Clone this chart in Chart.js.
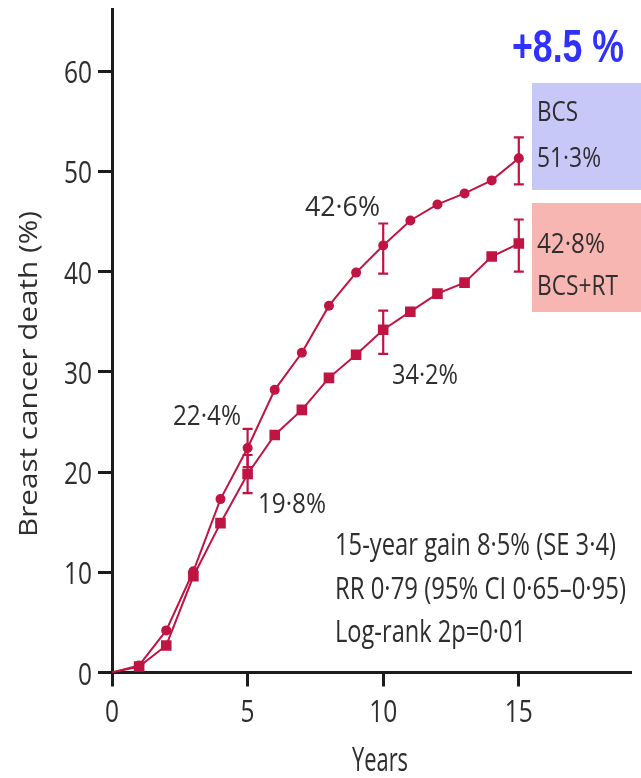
<!DOCTYPE html>
<html>
<head>
<meta charset="utf-8">
<script src="https://cdn.jsdelivr.net/npm/chart.js@4/dist/chart.umd.min.js"></script>
<style>
  html, body { margin: 0; padding: 0; background: #ffffff; }
  #wrap { width: 641px; height: 778px; }
</style>
</head>
<body>
<div id="wrap"><canvas id="c" width="641" height="778"></canvas></div>
<script>
// Cumulative breast cancer death (%) by year of follow-up
const years = [0, 1, 2, 3, 4, 5, 6, 7, 8, 9, 10, 11, 12, 13, 14, 15];
const bcs   = [0, 0.7, 4.2, 10.1, 17.3, 22.4, 28.2, 31.9, 36.6, 39.9, 42.6, 45.1, 46.7, 47.8, 49.1, 51.3];
const bcsRt = [0, 0.6, 2.7, 9.6, 14.9, 19.8, 23.7, 26.2, 29.4, 31.7, 34.2, 36.0, 37.8, 38.9, 41.5, 42.8];

// Error bars at 5, 10 and 15 years
const errYears = [5, 10, 15];
const bcsLo   = [20.5, 39.8, 48.7];
const bcsHi   = [24.3, 44.8, 53.4];
const bcsRtLo = [17.9, 31.8, 40.0];
const bcsRtHi = [21.7, 36.1, 45.2];

// Axis ticks
const xTicks = [0, 5, 10, 15];
const yTicks = [0, 10, 20, 30, 40, 50, 60];

// Value labels next to the curves
const pointLabels = ['22·4%', '19·8%', '42·6%', '34·2%'];
const groupLabels = ['BCS', '51·3%', '42·8%', 'BCS+RT'];
const statsLines = [
  '15-year gain 8·5% (SE 3·4)',
  'RR 0·79 (95% CI 0·65–0·95)',
  'Log-rank 2p=0·01'
];

const RED = '#c01443';
const AXIS = '#1c1c1c';
const INK = '#2e2e2e';
const FONT = '"Open Sans", "Noto Sans", sans-serif';

// Draw a string squeezed horizontally to a given width (condensed look)
function fitText(ctx, s, x, base, w, size, opt) {
  opt = opt || {};
  ctx.save();
  ctx.font = (opt.weight || 'normal') + ' ' + size + 'px ' + (opt.family || FONT);
  const m = ctx.measureText(s).width;
  const k = w / m;
  ctx.fillStyle = opt.color || INK;
  ctx.textBaseline = 'alphabetic';
  ctx.textAlign = 'left';
  ctx.translate(x, base);
  if (opt.rotate) ctx.rotate(opt.rotate);
  ctx.scale(k, 1);
  const off = opt.align === 'center' ? -m / 2 : opt.align === 'right' ? -m : 0;
  ctx.fillText(s, off, 0);
  ctx.restore();
}

function scaledText(ctx, s, x, base, k, size, align) {
  ctx.save();
  ctx.font = size + 'px ' + FONT;
  const m = ctx.measureText(s).width;
  ctx.fillStyle = INK;
  ctx.textBaseline = 'alphabetic';
  ctx.textAlign = 'left';
  ctx.translate(x, base);
  ctx.scale(k, 1);
  const off = align === 'center' ? -m / 2 : align === 'right' ? -m : 0;
  ctx.fillText(s, off, 0);
  ctx.restore();
}

const errorBars = {
  id: 'errorBars',
  afterDatasetsDraw(chart) {
    const { ctx, scales: { x, y } } = chart;
    ctx.save();
    ctx.strokeStyle = RED;
    ctx.lineWidth = 2.2;
    const cap = 5;
    const sets = [[bcsLo, bcsHi], [bcsRtLo, bcsRtHi]];
    sets.forEach(([lo, hi]) => {
      errYears.forEach((yr, i) => {
        const px = x.getPixelForValue(yr);
        const y1 = y.getPixelForValue(lo[i]);
        const y2 = y.getPixelForValue(hi[i]);
        ctx.beginPath();
        ctx.moveTo(px, y1); ctx.lineTo(px, y2);
        ctx.moveTo(px - cap, y1); ctx.lineTo(px + cap, y1);
        ctx.moveTo(px - cap, y2); ctx.lineTo(px + cap, y2);
        ctx.stroke();
      });
    });
    ctx.restore();
  }
};

const annotations = {
  id: 'annotations',
  afterDraw(chart) {
    const { ctx, scales: { x, y } } = chart;

    // Tick labels from the scales
    ctx.save();
    ctx.font = '31px ' + FONT;
    const kTick = 28 / ctx.measureText('60').width;
    ctx.restore();
    y.ticks.forEach(t => {
      scaledText(ctx, String(t.value), 92, y.getPixelForValue(t.value) + 12, kTick, 31, 'right');
    });
    x.ticks.forEach(t => {
      scaledText(ctx, String(t.value), x.getPixelForValue(t.value), 722, kTick, 31, 'center');
    });

    // Axis titles
    fitText(ctx, 'Years', 380, 771, 56, 32, { align: 'center' });
    fitText(ctx, 'Breast cancer death (%)', 37, 374, 326, 25, { align: 'center', rotate: -Math.PI / 2 });

    // Values at 5 and 10 years
    fitText(ctx, pointLabels[0], 173, 425, 68, 28);
    fitText(ctx, pointLabels[1], 258, 513, 68, 28);
    fitText(ctx, pointLabels[2], 305, 216, 75, 28);
    fitText(ctx, pointLabels[3], 392, 384, 66, 28);

    // Group boxes at 15 years
    ctx.save();
    ctx.fillStyle = '#c7c7f8';
    ctx.fillRect(532, 83, 109, 107);
    ctx.fillStyle = '#f8b6b2';
    ctx.fillRect(532, 203, 109, 109);
    ctx.restore();
    fitText(ctx, groupLabels[0], 537, 121, 41, 28);
    fitText(ctx, groupLabels[1], 537, 167, 64, 28);
    fitText(ctx, groupLabels[2], 537, 253, 68, 28);
    fitText(ctx, groupLabels[3], 537, 295, 81, 28);

    // Difference at 15 years
    fitText(ctx, '+8.5 %', 512, 62, 112, 47, { weight: 'bold', family: '"Liberation Sans", Arial, sans-serif', color: '#3030ff' });

    // Summary statistics
    fitText(ctx, statsLines[0], 335, 555, 281, 31);
    fitText(ctx, statsLines[1], 335, 599, 291, 31);
    fitText(ctx, statsLines[2], 335, 642, 191, 31);
  }
};

const axisCommon = {
  type: 'linear',
  ticks: { display: false },
  grid: {
    drawOnChartArea: false,
    drawTicks: true,
    tickLength: 14,
    lineWidth: 3,
    color: AXIS
  },
  border: { display: true, width: 3, color: AXIS }
};

new Chart(document.getElementById('c'), {
  type: 'line',
  data: {
    datasets: [
      {
        label: 'BCS',
        data: years.map((yr, i) => ({ x: yr, y: bcs[i] })),
        borderColor: RED,
        backgroundColor: RED,
        borderWidth: 2,
        pointStyle: 'circle',
        pointRadius: c => (c.dataIndex === 0 ? 0 : 5),
        pointBorderWidth: 0,
        tension: 0
      },
      {
        label: 'BCS+RT',
        data: years.map((yr, i) => ({ x: yr, y: bcsRt[i] })),
        borderColor: RED,
        backgroundColor: RED,
        borderWidth: 2,
        pointStyle: 'rect',
        pointRadius: c => (c.dataIndex === 0 ? 0 : 7.5),
        pointBorderWidth: 0,
        tension: 0
      }
    ]
  },
  options: {
    responsive: false,
    animation: false,
    events: [],
    layout: { padding: { top: 9, right: 11, left: 0, bottom: 0 } },
    plugins: { legend: { display: false }, tooltip: { enabled: false } },
    scales: {
      x: Object.assign({}, axisCommon, {
        min: 0,
        max: 19.1,
        afterBuildTicks: s => { s.ticks = xTicks.map(v => ({ value: v })); },
        afterFit: s => { s.height = 105.5; }
      }),
      y: Object.assign({}, axisCommon, {
        min: 0,
        max: 66.2,
        afterBuildTicks: s => { s.ticks = yTicks.map(v => ({ value: v })); },
        afterFit: s => { s.width = 112; }
      })
    }
  },
  plugins: [errorBars, annotations]
});
</script>
</body>
</html>
